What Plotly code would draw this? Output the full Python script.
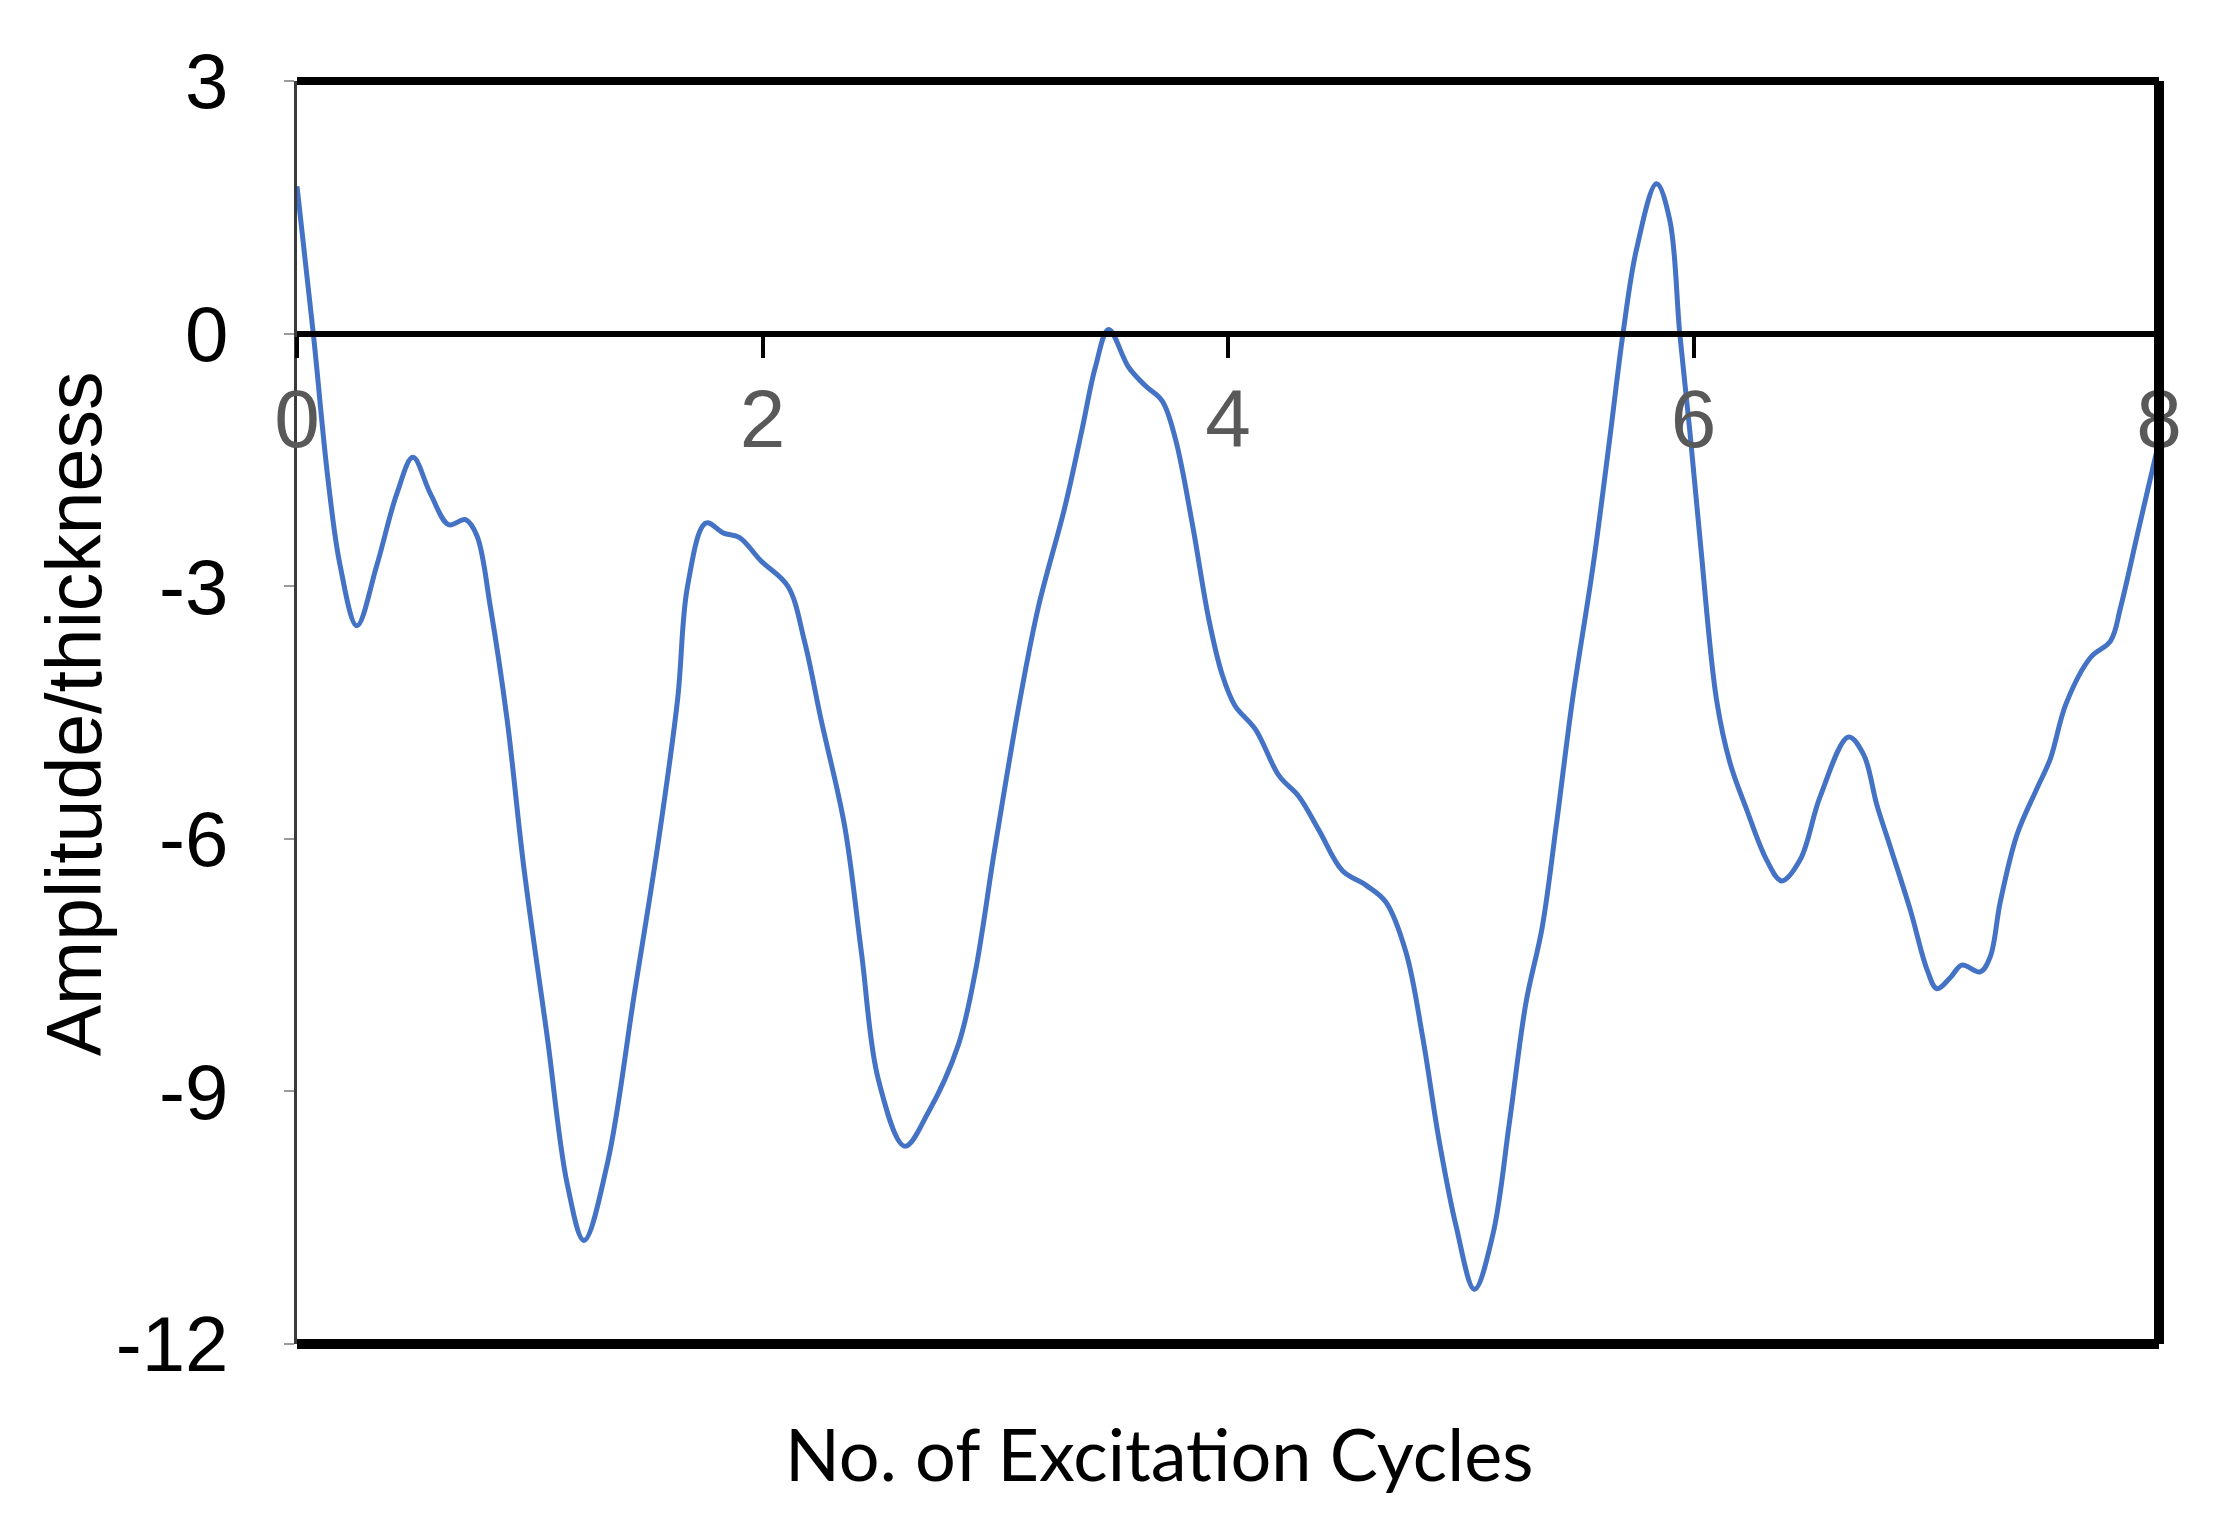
import plotly.graph_objects as go

cycles = [0.00, 0.07, 0.134, 0.185, 0.257, 0.343, 0.429, 0.498, 0.573, 0.652, 0.724, 0.773,
          0.831, 0.903, 0.975, 1.075, 1.161, 1.233, 1.334, 1.449, 1.549, 1.635, 1.678, 1.757,
          1.833, 1.90, 1.994, 2.109, 2.18, 2.252, 2.353, 2.425, 2.497, 2.611, 2.712, 2.841,
          2.913, 2.999, 3.106, 3.185, 3.30, 3.372, 3.43, 3.487, 3.573, 3.645, 3.717, 3.774,
          3.846, 3.918, 3.975, 4.03, 4.118, 4.219, 4.305, 4.391, 4.492, 4.592, 4.678, 4.765,
          4.836, 4.908, 4.980, 5.059, 5.138, 5.21, 5.28, 5.35, 5.41, 5.48, 5.569, 5.64,
          5.697, 5.755, 5.841, 5.898, 5.941, 5.984, 6.03, 6.099, 6.157, 6.228, 6.314, 6.379,
          6.458, 6.544, 6.666, 6.731, 6.788, 6.846, 6.932, 7.003, 7.046, 7.103, 7.153, 7.232,
          7.275, 7.318, 7.39, 7.476, 7.533, 7.60, 7.705, 7.792, 7.835, 7.906, 7.986, 8.0]
amplitude = [1.75, 0.0, -1.75, -2.75, -3.47, -2.75, -1.90, -1.47, -1.90, -2.27, -2.21, -2.40,
             -3.25, -4.59, -6.35, -8.35, -10.10, -10.77, -9.85, -7.85, -6.10, -4.35, -3.0, -2.25,
             -2.37, -2.42, -2.70, -3.0, -3.65, -4.59, -5.85, -7.35, -8.85, -9.65, -9.25, -8.45,
             -7.60, -6.10, -4.35, -3.25, -2.05, -1.15, -0.40, 0.05, -0.40, -0.62, -0.80, -1.25,
             -2.25, -3.40, -4.05, -4.42, -4.70, -5.25, -5.50, -5.90, -6.38, -6.55, -6.75, -7.35,
             -8.35, -9.60, -10.60, -11.35, -10.70, -9.35, -7.95, -7.05, -5.85, -4.35, -2.75, -1.25,
             0.0, 1.0, 1.78, 1.35, 0.0, -1.15, -2.50, -4.35, -5.10, -5.65, -6.25, -6.50,
             -6.25, -5.50, -4.79, -5.0, -5.60, -6.10, -6.85, -7.55, -7.78, -7.65, -7.50, -7.58,
             -7.40, -6.75, -5.95, -5.40, -5.05, -4.40, -3.85, -3.65, -3.25, -2.40, -1.45, -1.30]

x_ticks = [0, 2, 4, 6, 8]
y_ticks = [3, 0, -3, -6, -9, -12]
x_title = "No. of Excitation Cycles"
y_title = "Amplitude/thickness"

fig = go.Figure()
fig.add_trace(go.Scatter(
    x=cycles, y=amplitude, mode="lines",
    line=dict(color="#4472C4", width=5, shape="spline", smoothing=1.0),
    hoverinfo="skip",
))

fig.update_layout(
    width=2214, height=1532,
    margin=dict(l=289, r=63, t=73, b=196),
    paper_bgcolor="white", plot_bgcolor="white",
    showlegend=False,
    xaxis=dict(
        range=[0, 8], anchor="free", position=0.8, domain=[0, 1],
        tickmode="array", tickvals=x_ticks, ticktext=[str(v) for v in x_ticks],
        ticks="outside", ticklen=21, tickwidth=4, tickcolor="black",
        ticklabelstandoff=-9,
        tickfont=dict(family="Liberation Sans Narrow, Liberation Sans, Arial", size=82, color="#595959"),
        showline=True, linewidth=6, linecolor="black",
        showgrid=False, zeroline=False,
    ),
    yaxis=dict(
        range=[-12, 3],
        tickmode="array", tickvals=y_ticks, ticktext=[str(v) for v in y_ticks],
        ticks="outside", ticklen=10, tickwidth=2, tickcolor="#9a9a9a",
        ticklabelstandoff=40,
        tickfont=dict(family="Liberation Sans, Arial", size=78, color="black"),
        showline=True, linewidth=3, linecolor="#3a3a3a",
        showgrid=False, zeroline=False,
    ),
    shapes=[
        dict(type="line", xref="paper", yref="paper", x0=0, x1=1, y0=1, y1=1,
             line=dict(color="black", width=8)),
        dict(type="line", xref="paper", yref="paper", x0=0, x1=1, y0=0, y1=0,
             line=dict(color="black", width=10)),
        dict(type="line", xref="paper", yref="paper", x0=1, x1=1, y0=0, y1=1,
             line=dict(color="black", width=10)),
    ],
    annotations=[
        dict(text=x_title, xref="paper", yref="paper", x=0.463, y=-0.0863,
             xanchor="center", yanchor="middle", showarrow=False,
             font=dict(family="Lato, Open Sans, sans-serif", size=72, color="black")),
        dict(text=y_title, xref="paper", yref="paper", x=-0.12, y=0.499,
             xanchor="center", yanchor="middle", showarrow=False, textangle=-90,
             font=dict(family="Liberation Sans, Arial", size=77, color="black")),
    ],
)

fig.write_html("out.html")
